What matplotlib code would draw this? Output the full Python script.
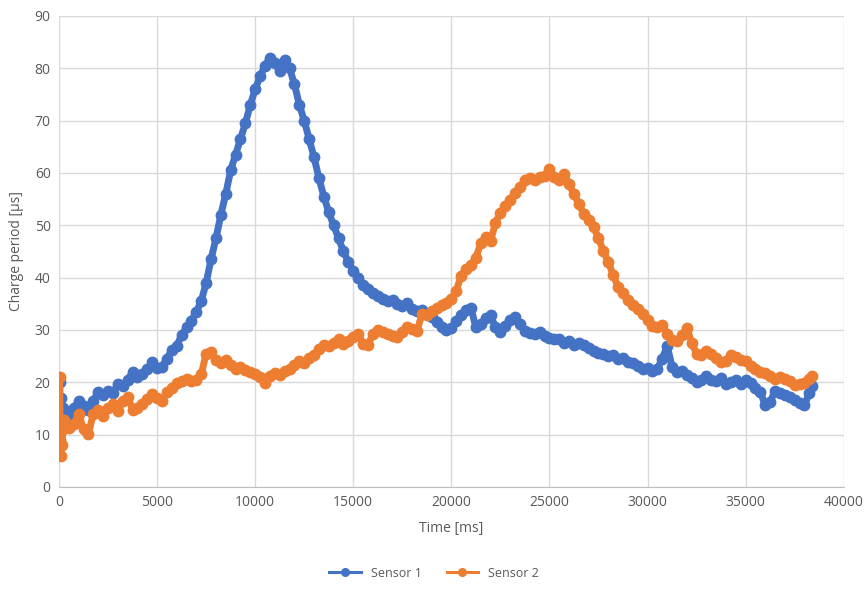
import numpy as np
import matplotlib.pyplot as plt

# ==========================================
# DATA
# ==========================================

t_start = [0, 30, 60, 90, 120, 150, 200]
t_regular = list(range(250, 38251, 250)) + [38400]
time_ms = t_start + t_regular

sensor1_start = [14, 20, 11, 8, 17, 13, 15]
sensor1 = sensor1_start + [
    14.5, 13.3, 15, 16.5, 15.5, 14.8, 16.5, 18.2, 17.5, 18.4, 18, 19.7, 19.2, 20.5, 21.9, 21,
    21.6, 22.5, 23.8, 22.8, 23, 24.5, 26.2, 27, 29, 30.5, 31.8, 33.5, 35.5, 39, 43.5, 47.5,
    52, 56, 60.5, 63.5, 66.5, 69.5, 73, 76, 78.5, 80.5, 82, 81, 79.5, 81.5, 80, 77,
    73, 70, 66.5, 63, 59, 55.5, 52.5, 50, 47.5, 45, 43, 41.3, 40, 38.5, 37.8, 37,
    36.5, 36, 35.5, 35.8, 35, 34.6, 35.2, 34, 33.6, 33.8, 33.1, 32.5, 31.5, 30.6, 30, 30.3,
    31.8, 32.8, 33.8, 34.2, 30.5, 31.2, 32.2, 32.8, 30.5, 29.6, 30.8, 32, 32.5, 31.2, 29.8, 29.5,
    29.2, 29.6, 28.8, 28.5, 28.2, 28.3, 27.6, 27.8, 27.2, 27.5, 27.2, 26.6, 26, 25.6, 25.4, 25,
    25.2, 24.4, 24.6, 23.8, 23.6, 23.2, 22.6, 22.8, 22.2, 22.6, 24.5, 27, 23, 22, 22.2, 21.4,
    20.8, 20, 20.4, 21.2, 20.5, 20.2, 20.8, 19.6, 20, 20.4, 19.6, 20.5, 19.8, 19, 18.2, 15.6,
    16.2, 18.4, 18, 17.6, 17.2, 16.6, 16, 15.6, 18, 19.3,
]

sensor2_start = [13, 21, 9, 6, 12, 8, 11]
sensor2 = sensor2_start + [
    12.8, 11.2, 12, 14, 11, 10.2, 14, 14.8, 13.6, 15, 15.9, 14.5, 16.5, 17.2, 14.8, 15,
    15.9, 16.8, 17.8, 17, 16.5, 18.2, 19, 19.8, 20.3, 20.6, 20.3, 20.5, 21.5, 25.5, 25.8, 24.2,
    23.7, 24.3, 23.4, 22.6, 23, 22.4, 22, 21.6, 21, 19.9, 21.2, 21.8, 21.4, 22.2, 22.6, 23.4,
    24, 23.6, 24.6, 25.2, 26.4, 27.2, 27, 27.6, 28.3, 27.4, 27.8, 28.6, 29.2, 27.4, 27.2, 29.2,
    30, 29.6, 29.2, 28.8, 28.6, 29.6, 30.6, 30.2, 29.8, 33, 32.8, 33.6, 34.2, 34.8, 35.2, 36,
    37.5, 40.4, 41.6, 42.4, 43.8, 46.6, 47.8, 47, 50.5, 52.4, 53.6, 54.8, 56.2, 57.4, 58.6, 59,
    58.6, 59.2, 59.4, 60.8, 59.2, 58.6, 59.8, 57.8, 56, 54, 52.2, 51, 49.6, 47.6, 45, 43,
    40.5, 38.2, 37, 35.8, 34.8, 34, 33, 32, 30.8, 30.6, 31, 29.2, 28, 27.8, 29, 30.4,
    27.6, 25.4, 25.2, 26, 25.4, 24.6, 23.8, 24, 25.2, 24.8, 24.2, 24, 23.2, 22.6, 22, 21.8,
    21.2, 20.6, 21, 20.6, 20.2, 19.4, 19.6, 19.8, 20.6, 21.2,
]

x_ticks = [0, 5000, 10000, 15000, 20000, 25000, 30000, 35000, 40000]
y_ticks = [0, 10, 20, 30, 40, 50, 60, 70, 80, 90]

# ==========================================
# PLOT
# ==========================================

plt.rcParams["font.family"] = ["Open Sans", "DejaVu Sans"]

fig = plt.figure(figsize=(8.68, 5.91), dpi=100)
ax = fig.add_axes([0.068, 0.176, 0.904, 0.797])

ax.plot(time_ms, sensor1, color="#4472C4", linewidth=5,
        marker="o", markersize=7.5, label="Sensor 1")
ax.plot(time_ms, sensor2, color="#ED7D31", linewidth=5,
        marker="o", markersize=7.5, label="Sensor 2")

ax.set_xlim(0, 40000)
ax.set_ylim(0, 90)
ax.set_xticks(x_ticks)
ax.set_yticks(y_ticks)

ax.grid(True, color="#d9d9d9", linewidth=1)
ax.set_axisbelow(True)
for side in ["top", "right", "left"]:
    ax.spines[side].set_visible(False)
ax.spines["bottom"].set_color("#bfbfbf")
ax.tick_params(length=0, labelsize=10, colors="#595959", pad=6)

ax.set_xlabel("Time [ms]", fontsize=10, color="#595959", labelpad=8)
ax.set_ylabel("Charge period [\u00b5s]", fontsize=10, color="#595959", labelpad=8)

handles, labels = ax.get_legend_handles_labels()
leg = fig.legend(handles, labels, loc="lower center", ncol=2, frameon=False,
                 fontsize=9, labelcolor="#595959", bbox_to_anchor=(0.5, 0.0),
                 handlelength=2.5)
for line in leg.get_lines():
    line.set_linewidth(2.2)
    line.set_markersize(5.5)

fig.savefig("out.png", dpi=100)
